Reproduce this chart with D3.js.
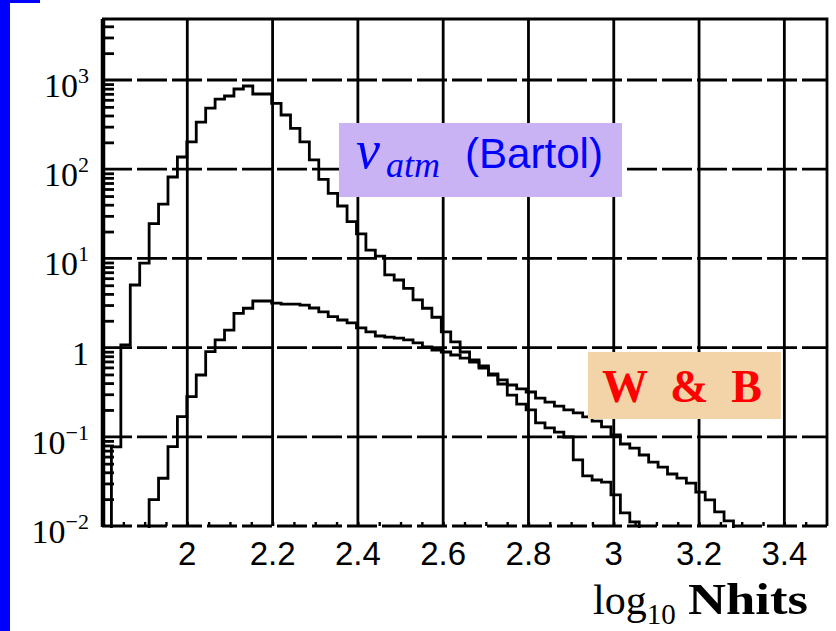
<!DOCTYPE html>
<html lang="en">
<head>
<meta charset="UTF-8">
<title>Nhits distribution</title>
<script src="https://d3js.org/d3.v7.min.js"></script>
<style>
  body { margin: 0; background: #fff; }
  svg { display: block; }
</style>
</head>
<body>
<svg id="chart" width="836" height="631"></svg>
<script>
  // bins in log10 Nhits, first edge and width
  var binStart = 1.8;
  var binWidth = 0.0221;

  // nu_atm (Bartol) counts per bin
  var bartol = [0, 0.077, 1.07, 5.03, 8.87, 24.6, 40.7, 81.8, 137, 202,
    338, 485, 612, 662, 793, 857, 697, 697, 548, 405,
    287, 203, 127, 77.1, 53.7, 38.7, 25.8, 18.8, 12.4, 10.6,
    6.52, 5.73, 4.62, 3.42, 2.76, 2.19, 1.50, 1.16, 0.893, 0.726,
    0.622, 0.493, 0.391, 0.294, 0.233, 0.200, 0.143, 0.126, 0.113, 0.0995,
    0.0550, 0.0364, 0.0328, 0.0311, 0.0223, 0.0140, 0.0111, 0];

  // W & B counts per bin
  var wb = [0, 0, 0, 0, 0, 0.0198, 0.0343, 0.0778, 0.168, 0.282,
    0.493, 0.90, 1.22, 1.57, 2.42, 2.76, 3.33, 3.33, 3.16, 3.08,
    3.08, 3.00, 2.78, 2.51, 2.22, 2.04, 1.89, 1.66, 1.50, 1.35,
    1.31, 1.28, 1.22, 1.13, 1.02, 0.94, 0.893, 0.826, 0.764, 0.69,
    0.59, 0.506, 0.434, 0.381, 0.344, 0.318, 0.272, 0.245, 0.221, 0.200,
    0.185, 0.167, 0.150, 0.129, 0.105, 0.083, 0.0748, 0.0625, 0.0521, 0.0458,
    0.0383, 0.0345, 0.0303, 0.0240, 0.0196, 0.0144, 0.0114, 0];

  var xTicks = [2, 2.2, 2.4, 2.6, 2.8, 3, 3.2, 3.4];
  var xTickLabels = ["2", "2.2", "2.4", "2.6", "2.8", "3", "3.2", "3.4"];
  var yDecades = [0.01, 0.1, 1, 10, 100, 1000];
  var yLabelBase = ["10", "10", "1", "10", "10", "10"];
  var yLabelExp = ["\u22122", "\u22121", "", "1", "2", "3"];

  var svg = d3.select("#chart");
  var plotL = 102, plotR = 827, plotT = 19, plotB = 526;
  var lw = 2.8;

  var x = d3.scaleLinear().domain([1.8, 3.5]).range([plotL, plotR]);
  var y = d3.scaleLog().domain([0.01, 4830]).range([plotB, plotT]);

  // blue strip on the left edge
  svg.append("rect").attr("x", 0).attr("y", 0).attr("width", 10).attr("height", 631).attr("fill", "#0000ff");
  svg.append("rect").attr("x", 0).attr("y", 0).attr("width", 40).attr("height", 3).attr("fill", "#0000ff");

  // grid
  svg.append("g")
    .selectAll("line")
    .data(xTicks)
    .enter().append("line")
      .attr("x1", d => x(d)).attr("x2", d => x(d))
      .attr("y1", plotT).attr("y2", plotB)
      .attr("stroke", "#000").attr("stroke-width", lw);

  svg.append("g")
    .selectAll("line")
    .data(yDecades)
    .enter().append("line")
      .attr("x1", plotL).attr("x2", plotR)
      .attr("y1", d => y(d)).attr("y2", d => y(d))
      .attr("stroke", "#000").attr("stroke-width", lw)
      .attr("stroke-dasharray", "30,5");

  // frame top and right
  svg.append("path")
    .attr("d", "M" + plotL + "," + plotT + "H" + plotR + "V" + plotB)
    .attr("fill", "none").attr("stroke", "#000").attr("stroke-width", lw);

  // minor ticks on the log axis
  var yMinor = [];
  yDecades.forEach(function(d) {
    for (var k = 2; k <= 9; k++) if (d * k < 4830) yMinor.push(d * k);
  });
  [2000, 3000, 4000].forEach(function(v){ if (yMinor.indexOf(v) < 0) yMinor.push(v); });

  svg.append("g")
    .attr("transform", "translate(" + plotL + ",0)")
    .call(d3.axisRight(y).tickValues(yMinor).tickSize(12).tickFormat(""))
    .call(g => g.select(".domain").remove())
    .call(g => g.selectAll("line").attr("stroke", "#000").attr("stroke-width", lw));

  svg.append("line")
    .attr("x1", plotL + 1).attr("x2", plotL + 1)
    .attr("y1", plotT).attr("y2", plotB + 1)
    .attr("stroke", "#000").attr("stroke-width", 4.5);

  // minor ticks along the bottom
  var xMinor = d3.range(1.85, 3.5, 0.05);
  svg.append("g")
    .attr("transform", "translate(0," + plotB + ")")
    .call(d3.axisTop(x).tickValues(xMinor).tickSize(4).tickFormat(""))
    .call(g => g.select(".domain").remove())
    .call(g => g.selectAll("line").attr("stroke", "#000").attr("stroke-width", 2.4));

  // histograms
  svg.append("clipPath").attr("id", "plotArea")
    .append("rect").attr("x", plotL).attr("y", plotT).attr("width", plotR - plotL).attr("height", plotB - plotT + 2);

  function stepPoints(vals) {
    var pts = [];
    vals.forEach(function(v, i) {
      pts.push([binStart + i * binWidth, v]);
    });
    pts.push([binStart + vals.length * binWidth, vals[vals.length - 1]]);
    return pts;
  }

  var line = d3.line()
    .x(d => x(d[0]))
    .y(d => d[1] > 0 ? y(d[1]) : plotB + 20)
    .curve(d3.curveStepAfter);

  var hist = svg.append("g").attr("clip-path", "url(#plotArea)");
  [bartol, wb].forEach(function(vals) {
    hist.append("path")
      .attr("d", line(stepPoints(vals)))
      .attr("fill", "none")
      .attr("stroke", "#000")
      .attr("stroke-width", lw);
  });

  // x tick labels
  svg.append("g")
    .selectAll("text")
    .data(xTicks)
    .enter().append("text")
      .attr("x", d => x(d))
      .attr("y", 565)
      .attr("text-anchor", "middle")
      .attr("font-family", "Liberation Sans, sans-serif")
      .attr("font-size", 33)
      .text((d, i) => xTickLabels[i]);

  // y tick labels
  var yl = svg.append("g")
    .selectAll("text")
    .data(yDecades)
    .enter().append("text")
      .attr("x", 89)
      .attr("y", d => y(d) + 17)
      .attr("text-anchor", "end")
      .attr("font-family", "Liberation Serif, serif")
      .attr("font-size", 34);
  yl.append("tspan").text((d, i) => yLabelBase[i]);
  yl.append("tspan")
    .attr("dy", -14)
    .attr("font-size", 22)
    .text((d, i) => yLabelExp[i]);

  // x axis title
  var xt = svg.append("text")
    .attr("x", 593).attr("y", 614)
    .attr("font-family", "Liberation Serif, serif")
    .attr("font-size", 42);
  xt.append("tspan").text("log");
  xt.append("tspan").attr("dy", 10).attr("font-size", 29).text("10");
  xt.append("tspan").attr("x", 688).attr("dy", -10).attr("font-weight", "bold").attr("font-size", 44)
    .attr("textLength", 120).attr("lengthAdjust", "spacingAndGlyphs").text("Nhits");

  // nu_atm label
  svg.append("rect").attr("x", 339).attr("y", 123).attr("width", 283).attr("height", 74).attr("fill", "#c9b3f5");
  var nu = svg.append("text")
    .attr("x", 356).attr("y", 168)
    .attr("fill", "#0000ff")
    .attr("font-family", "Liberation Serif, serif")
    .attr("font-size", 54);
  nu.append("tspan").attr("font-style", "italic").text("\u03bd");
  nu.append("tspan").attr("x", 386).attr("font-style", "italic").attr("font-size", 36).attr("dy", 9).text("atm");
  nu.append("tspan").attr("x", 465).attr("font-family", "Liberation Sans, sans-serif").attr("font-size", 42).attr("dy", -9)
    .attr("textLength", 138).attr("lengthAdjust", "spacingAndGlyphs").text("(Bartol)");

  // W & B label
  svg.append("rect").attr("x", 588).attr("y", 352).attr("width", 193).attr("height", 67).attr("fill", "#f3d4a8");
  svg.append("text")
    .attr("x", 602).attr("y", 402)
    .attr("fill", "#ff0000")
    .attr("font-family", "Liberation Serif, serif")
    .attr("font-weight", "bold")
    .attr("font-size", 46)
    .attr("textLength", 160)
    .attr("lengthAdjust", "spacing")
    .text("W & B");
</script>
</body>
</html>
